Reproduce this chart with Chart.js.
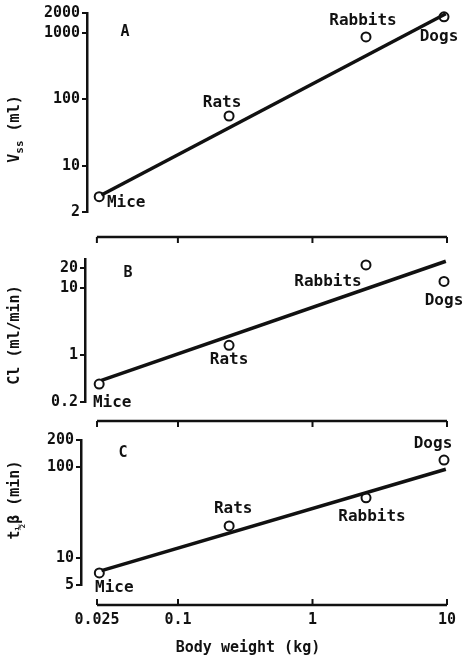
<!DOCTYPE html>
<html>
<head>
<meta charset="utf-8">
<script src="https://cdn.jsdelivr.net/npm/chart.js@4.4.0/dist/chart.umd.min.js"></script>
<style>
  body { margin: 0; background: #fff; }
  canvas.panel { position: absolute; left: 0; }
</style>
</head>
<body>
<canvas id="chartA" class="panel" width="467" height="230" style="top:0px"></canvas>
<canvas id="chartB" class="panel" width="467" height="195" style="top:225px"></canvas>
<canvas id="chartC" class="panel" width="467" height="250" style="top:410px"></canvas>
<script>
// values (log-log)
const species = ['Mice', 'Rats', 'Rabbits', 'Dogs'];
const bodyWeight = [0.026, 0.24, 2.5, 9.5];
const vss = [3.4, 56, 870, 1750];
const clearance = [0.37, 1.4, 22, 12.5];
const tHalf = [6.8, 22.5, 46, 120];

// fitted lines, two ends each
const fitWeight = [0.027, 9.8];
const vssFit = [3.6, 1950];
const clFit = [0.42, 25];
const tHalfFit = [7.2, 95];

const xTicks = [0.025, 0.1, 1, 10];
const vssTicks = [2, 10, 100, 1000, 2000];
const clTicks = [0.2, 1, 10, 20];
const tHalfTicks = [5, 10, 100, 200];

const ink = '#111';
const fam = "'DejaVu Sans Mono', monospace";

function pts(xs, ys) {
  return xs.map((x, i) => ({x: x, y: ys[i]}));
}

function fixTicks(vals) {
  return function(scale) {
    scale.ticks = vals.map(v => ({value: v}));
  };
}

function decor(p) {
  return {
    id: 'decor',
    afterDatasetsDraw(chart) {
      const ctx = chart.ctx, a = chart.chartArea, xs = chart.scales.x;
      ctx.save();
      ctx.strokeStyle = ink;
      ctx.fillStyle = ink;
      // detached x axis lines
      p.lines.forEach(l => {
        const y = l.edge === 'top' ? a.top - l.gap : a.bottom + l.gap;
        const dir = l.edge === 'top' ? 1 : -1;
        ctx.lineWidth = 2.5;
        ctx.beginPath();
        ctx.moveTo(xs.getPixelForValue(xTicks[0]), y);
        ctx.lineTo(xs.getPixelForValue(xTicks[xTicks.length - 1]), y);
        ctx.stroke();
        ctx.lineWidth = 2;
        xTicks.forEach(v => {
          const x = xs.getPixelForValue(v);
          ctx.beginPath();
          ctx.moveTo(x, y);
          ctx.lineTo(x, y + dir * 6);
          ctx.stroke();
        });
      });
      // species labels
      const meta = chart.getDatasetMeta(1);
      ctx.font = 'bold 16px ' + fam;
      ctx.textAlign = 'center';
      ctx.textBaseline = 'middle';
      species.forEach((s, i) => {
        const el = meta.data[i];
        ctx.fillText(s, el.x + p.offsets[i][0], el.y + p.offsets[i][1]);
      });
      // x title (sits a bit left of centre in the original)
      if (p.xTitle) {
        ctx.font = 'bold 15px ' + fam;
        ctx.fillText(p.xTitle, 248, a.bottom + 63);
      }
      // panel letter
      ctx.font = 'bold 15px ' + fam;
      ctx.fillText(p.letter, a.left + p.letterAt[0], a.top + p.letterAt[1]);
      // rotated y title with subscripts
      ctx.translate(15, p.titleY);
      ctx.rotate(-Math.PI / 2);
      const big = 'bold 15px ' + fam, small = 'bold 11px ' + fam;
      let w = 0;
      p.title.forEach(t => { ctx.font = t.sub ? small : big; w += ctx.measureText(t.text).width; });
      let x = -w / 2;
      ctx.textAlign = 'left';
      p.title.forEach(t => {
        ctx.font = t.sub ? small : big;
        ctx.fillText(t.text, x, t.sub ? 5 : 0);
        x += ctx.measureText(t.text).width;
      });
      ctx.restore();
    }
  };
}

function yScale(min, max, ticks, width) {
  return {
    type: 'logarithmic',
    min: min,
    max: max,
    bounds: 'data',
    afterBuildTicks: fixTicks(ticks),
    afterFit: s => { s.width = width; },
    ticks: {
      autoSkip: false,
      padding: 2,
      color: ink,
      font: {family: fam, size: 15, weight: 'bold'},
      callback: v => String(v)
    },
    grid: {drawOnChartArea: false, drawTicks: true, tickLength: 5, color: ink, lineWidth: 2},
    border: {display: true, color: ink, width: 2.5}
  };
}

function makePanel(id, p) {
  const x = {
    type: 'logarithmic',
    min: p.xMin,
    max: 12.6,
    bounds: 'data',
    display: false
  };
  if (p.showX) {
    Object.assign(x, {
      display: true,
      position: 'bottom',
      afterBuildTicks: fixTicks(xTicks),
      afterFit: s => {
        s.height = p.xHeight;
        s.paddingLeft = 0;
        s.paddingRight = 0;
      },
      ticks: {
        autoSkip: false,
        maxRotation: 0,
        padding: 26,
        color: ink,
        font: {family: fam, size: 15, weight: 'bold'},
        callback: v => String(v)
      },
      grid: {display: false, drawTicks: false},
      border: {display: false}
    });
  }
  return new Chart(document.getElementById(id), {
    data: {
      datasets: [
        {
          type: 'line',
          data: pts(fitWeight, p.fit),
          borderColor: ink,
          borderWidth: 3.5,
          pointRadius: 0,
          clip: false
        },
        {
          type: 'scatter',
          data: pts(bodyWeight, p.values),
          pointStyle: 'circle',
          pointRadius: 4.5,
          borderWidth: 2,
          borderColor: ink,
          backgroundColor: '#fff',
          clip: false
        }
      ]
    },
    options: {
      responsive: false,
      animation: false,
      devicePixelRatio: 1,
      layout: {padding: {top: p.padTop, bottom: p.padBottom, left: 0, right: 5}},
      plugins: {legend: {display: false}, tooltip: {enabled: false}},
      scales: {
        x: x,
        y: yScale(p.yMin, p.yMax, p.yTicks, p.yWidth)
      }
    },
    plugins: [decor(p)]
  });
}

makePanel('chartA', {
  values: vss, fit: vssFit, yTicks: vssTicks, yMin: 2, yMax: 2000,
  xMin: 0.0211, yWidth: 87, padTop: 13, padBottom: 18,
  lines: [],
  offsets: [[27, 6], [-7, -13], [-3, -16], [-5, 20]],
  letter: 'A', letterAt: [38, 19],
  title: [{text: 'V'}, {text: 'ss', sub: true}, {text: ' (ml)'}], titleY: 129
});

makePanel('chartB', {
  values: clearance, fit: clFit, yTicks: clTicks, yMin: 0.2, yMax: 27,
  xMin: 0.0204, yWidth: 85, padTop: 34, padBottom: 18,
  lines: [{edge: 'top', gap: 22}],
  offsets: [[13, 19], [0, 15], [-38, 17], [0, 19]],
  letter: 'B', letterAt: [43, 14],
  title: [{text: 'Cl (ml/min)'}], titleY: 110
});

makePanel('chartC', {
  values: tHalf, fit: tHalfFit, yTicks: tHalfTicks, yMin: 5, yMax: 200,
  xMin: 0.019, yWidth: 81, padTop: 30, padBottom: 0, showX: true, xHeight: 75,
  lines: [{edge: 'top', gap: 19}, {edge: 'bottom', gap: 20}],
  offsets: [[15, 15], [4, -17], [6, 19], [-11, -16]],
  letter: 'C', letterAt: [42, 13],
  xTitle: 'Body weight (kg)',
  title: [{text: 't'}, {text: '½', sub: true}, {text: 'β (min)'}], titleY: 90
});
</script>
</body>
</html>
